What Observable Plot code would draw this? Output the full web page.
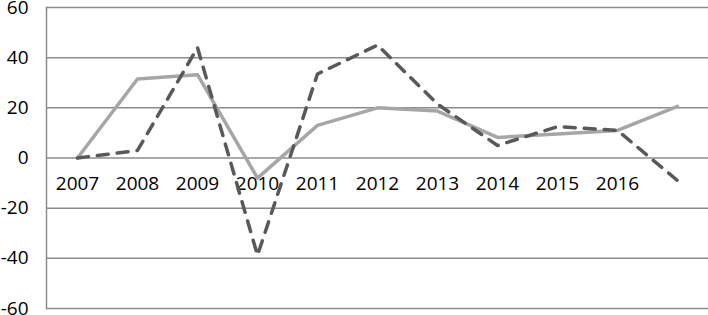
<!DOCTYPE html>
<html>
<head>
<meta charset="utf-8">
<script src="https://cdn.jsdelivr.net/npm/d3@7"></script>
<script src="https://cdn.jsdelivr.net/npm/@observablehq/plot@0.6"></script>
<style>
  html, body { margin: 0; padding: 0; background: #fff; }
  #chart svg { display: block; }
</style>
</head>
<body>
<div id="chart"></div>
<script>
const categories = ["2007","2008","2009","2010","2011","2012","2013","2014","2015","2016","2017"];
const tickLabels = ["2007","2008","2009","2010","2011","2012","2013","2014","2015","2016",""];
const solidSeries = [0, 31.5, 33.2, -8, 13, 20, 18.7, 8.2, 9.6, 11, 20.6];
const dashedSeries = [0, 3, 44, -38.8, 33.5, 45, 21.5, 5, 12.5, 11, -9];
const yTicks = [-60, -40, -20, 0, 20, 40, 60];

const solidData = categories.map((c, i) => ({x: c, y: solidSeries[i]}));
const dashedData = categories.map((c, i) => ({x: c, y: dashedSeries[i]}));
const labelData = categories.map((c, i) => ({x: c, label: tickLabels[i]}));

const font = "'Open Sans', sans-serif";

const chart = Plot.plot({
  width: 708,
  height: 315,
  marginLeft: 46,
  marginRight: 0,
  marginTop: 7,
  marginBottom: 7,
  style: {fontFamily: font, fontSize: "19px", color: "#000", background: "#fff", overflow: "visible"},
  x: {type: "point", domain: categories, padding: 0.5, axis: null},
  y: {domain: [-60, 60], ticks: yTicks, axis: null},
  marks: [
    Plot.ruleY(yTicks, {stroke: "#8c8c8c", strokeWidth: 1.5}),
    Plot.frame({anchor: "left", stroke: "#8c8c8c", strokeWidth: 1.5}),
    Plot.text(yTicks, {y: d => d, text: d => String(d), frameAnchor: "left", dx: -18, textAnchor: "end", fill: "#000", fontSize: 19}),
    Plot.text(labelData, {x: "x", y: () => 0, text: "label", dy: 26, fill: "#000", fontSize: 19}),
    Plot.line(solidData, {x: "x", y: "y", stroke: "#a6a6a6", strokeWidth: 3.5, strokeLinejoin: "round"}),
    Plot.line(dashedData, {x: "x", y: "y", stroke: "#595959", strokeWidth: 3.5, strokeDasharray: "11,9", strokeLinecap: "round", strokeLinejoin: "round"})
  ]
});
document.getElementById("chart").appendChild(chart);
</script>
</body>
</html>
